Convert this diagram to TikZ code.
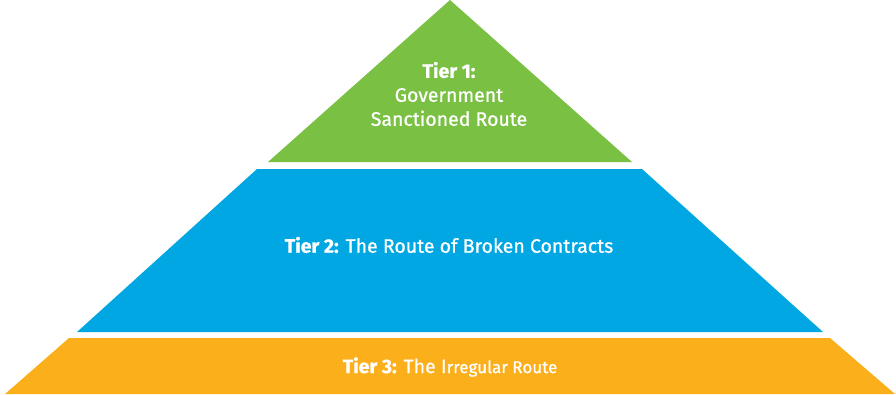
\documentclass[tikz,border=0pt]{standalone}
\usepackage{fontspec}
\setmainfont{Fira Sans}
\newfontfamily\medfont[FakeBold=0.8]{Fira Sans}
\definecolor{tgreen}{HTML}{7AC143}
\definecolor{tblue}{HTML}{00A7E2}
\definecolor{torange}{HTML}{FAAF1B}
\begin{document}
\begin{tikzpicture}[x=1pt,y=-1pt,
  tiertext/.style={text=white,align=center,font=\medfont\fontsize{19.5}{24}\selectfont}]
\useasboundingbox[fill=white] (0,0) rectangle (896,394);
\fill[tgreen] (450,0) -- (632,162) -- (268,162) -- cycle;
\fill[tblue] (257,169) -- (642,169) -- (823,332) -- (77,332) -- cycle;
\fill[torange] (69,338) -- (830,338) -- (895,394) -- (5,394) -- cycle;
\node[tiertext] (t1) at (449,94) {{\bfseries Tier 1:}\\Government\\Sanctioned Route};
\node[tiertext] (t2) at (449,245) {{\bfseries Tier 2:} The Route of Broken Contracts};
\node[tiertext] (t3) at (450,367) {{\bfseries Tier 3:} The I{\fontsize{17}{19}\selectfont rregular Route}};
\end{tikzpicture}
\end{document}
